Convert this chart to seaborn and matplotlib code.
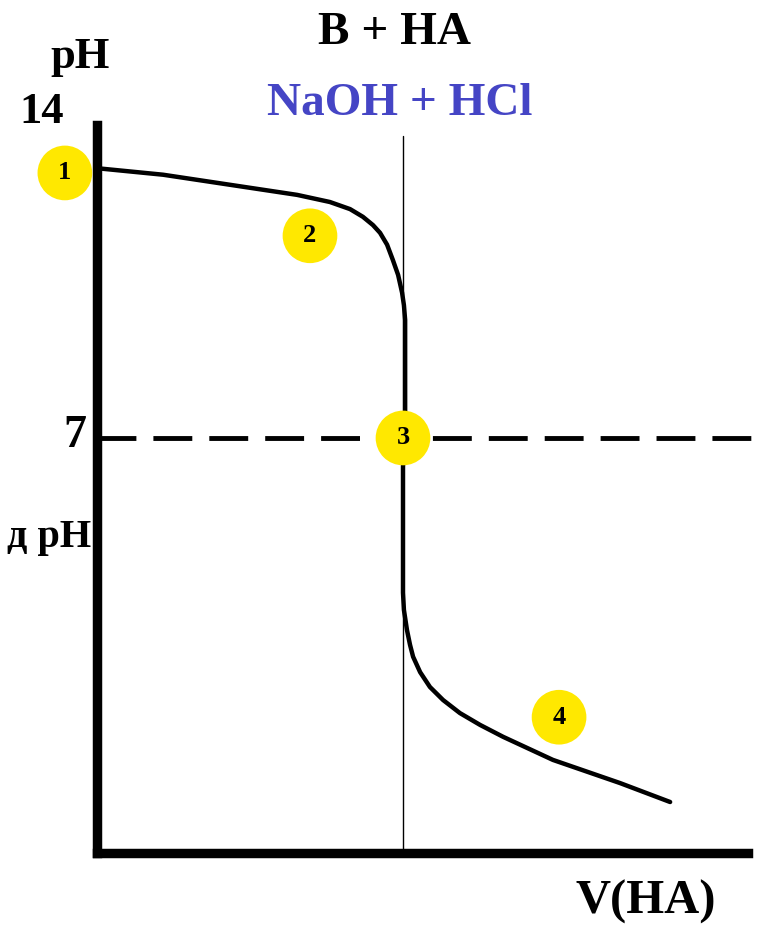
import numpy as np
import matplotlib
matplotlib.use('Agg')
import matplotlib.pyplot as plt
import pandas as pd
import seaborn as sns

# titration curve: strong base titrated by strong acid (schematic)
volume = [0.0, 2.16, 4.35, 6.54, 7.61, 8.27, 8.69, 9.02, 9.25, 9.48, 9.67, 9.84, 9.97,
          10.03, 10.07, 10.07, 10.0, 10.0, 10.03, 10.13, 10.23, 10.33, 10.56, 10.88,
          11.31, 11.86, 12.52, 13.27, 14.9, 17.09, 18.73]
ph = [11.55, 11.44, 11.27, 11.10, 10.98, 10.86, 10.73, 10.59, 10.46, 10.26, 10.0, 9.75, 9.45,
      9.24, 8.99, 7.47, 6.51, 4.39, 4.10, 3.76, 3.51, 3.31, 3.05, 2.80,
      2.58, 2.36, 2.16, 1.96, 1.57, 1.18, 0.86]

point_labels = ['1', '2', '3', '4']
point_volume = [-1.05, 6.96, 10.0, 15.1]
point_ph = [11.47, 10.41, 7.0, 2.29]

v_eq = 10.0
ph_neutral = 7

W, H = 758, 927
sns.set_style('white')
plt.rcParams['font.family'] = ['Liberation Serif', 'DejaVu Serif']
plt.rcParams['font.weight'] = 'bold'

fig = plt.figure(figsize=(W / 100, H / 100), dpi=100)
# plot rectangle in pixels: x 97..748, y 125..853
ax = fig.add_axes([97 / W, (H - 853) / H, (748 - 97) / W, (853 - 125) / H])
ax.set_xlim(0, (748 - 97) / 30.6)
ax.set_ylim(0, (853 - 125) / 59.29)

curve = pd.DataFrame({'V': volume, 'pH': ph})
sns.lineplot(data=curve, x='V', y='pH', sort=False, estimator=None,
             color='black', linewidth=3.2, ax=ax)
ax.lines[-1].set_solid_joinstyle('round')

ax.axvline(v_eq, ymax=(853 - 136) / (853 - 125), color='black', linewidth=1.0)
ax.axhline(ph_neutral, xmax=(758 - 97) / (748 - 97), color='black', linewidth=3.5,
           dashes=(8, 3.5), clip_on=False)

pts = pd.DataFrame({'V': point_volume, 'pH': point_ph, 'lab': point_labels})
sns.scatterplot(data=pts, x='V', y='pH', s=1550, color='#FFE800', edgecolor='none',
                ax=ax, zorder=5, clip_on=False, legend=False)
for _, r in pts.iterrows():
    ax.text(r['V'], r['pH'], r['lab'], ha='center', va='center', fontsize=19,
            fontweight='bold', color='black', zorder=6)

for side in ['top', 'right']:
    ax.spines[side].set_visible(False)
for side in ['left', 'bottom']:
    ax.spines[side].set_linewidth(6.8)
    ax.spines[side].set_color('black')
    ax.spines[side].set_capstyle('projecting')
ax.set_xticks([])
ax.set_yticks([])
ax.set_xlabel('')
ax.set_ylabel('')
ax.patch.set_alpha(0)


def px_text(x, y, s, **kw):
    fig.text(x / W, 1 - y / H, s, fontweight='bold', **kw)


px_text(394, 44, 'B + HA', ha='center', va='baseline', fontsize=34, color='black')
px_text(400, 115, 'NaOH + HCl', ha='center', va='baseline', fontsize=34, color='#4545C5')
px_text(80, 68, 'pH', ha='center', va='baseline', fontsize=32, color='black')
px_text(42, 123, '14', ha='center', va='baseline', fontsize=32, color='black')
px_text(75, 447, '7', ha='center', va='baseline', fontsize=33, color='black')
px_text(91, 547, 'д pH', ha='right', va='baseline', fontsize=29, color='black')
px_text(646, 914, 'V(HA)', ha='center', va='baseline', fontsize=35, color='black')

fig.savefig('out.png', dpi=100)
